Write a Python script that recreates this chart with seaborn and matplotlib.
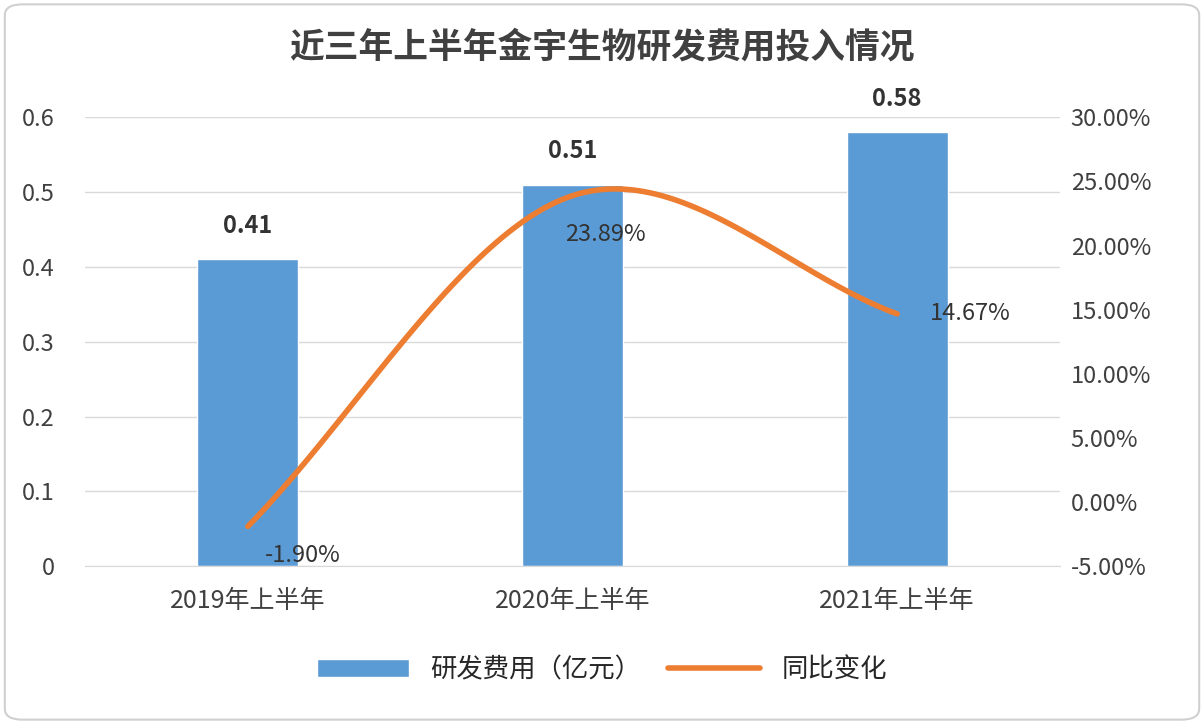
import numpy as np
import pandas as pd
import matplotlib.pyplot as plt
import seaborn as sns
from matplotlib.patches import FancyBboxPatch

periods = ['2019年上半年', '2020年上半年', '2021年上半年']
rd_cost = [0.41, 0.51, 0.58]
yoy_pct = [-1.90, 23.89, 14.67]

sns.set_style('white')
plt.rcParams['font.family'] = ['Noto Sans CJK SC', 'DejaVu Sans']

fig = plt.figure(figsize=(12.04, 7.24), dpi=100)
fig.patches.append(FancyBboxPatch((0.004, 0.006), 0.992, 0.988, boxstyle='round,pad=0,rounding_size=0.015',
                                  transform=fig.transFigure, fc='none', ec='#d0d0d0', lw=1.5))
ax = fig.add_axes([0.071, 0.218, 0.809, 0.62])

df = pd.DataFrame({'period': periods, 'cost': rd_cost})
sns.barplot(data=df, x='period', y='cost', color='#5B9BD5', width=0.31, ax=ax, saturation=1,
            label='研发费用（亿元）')
ax.set_ylim(0, 0.6)
ax.set_yticks(np.arange(0, 0.61, 0.1))
ax.set_yticklabels(['0', '0.1', '0.2', '0.3', '0.4', '0.5', '0.6'])
ax.set_xlim(-0.5, 2.5)
ax.set_xlabel('')
ax.set_ylabel('')
ax.yaxis.grid(True, color='#d9d9d9', lw=1)
ax.set_axisbelow(True)
for s in ax.spines.values():
    s.set_visible(False)
ax.spines['bottom'].set_visible(True)
ax.spines['bottom'].set_color('#d9d9d9')
ax.tick_params(axis='y', labelsize=17, colors='#404040', length=0, pad=22)
ax.tick_params(axis='x', labelsize=18, colors='#404040', length=0, pad=16)
for i, v in enumerate(rd_cost):
    ax.text(i, v + 0.045, f'{v:.2f}', ha='center', va='center', fontsize=17, fontweight='bold', color='#333333')

ax2 = ax.twinx()
# smooth curve through the points (Catmull-Rom, like Excel smoothed line)
x = np.arange(len(yoy_pct), dtype=float)
y = np.array(yoy_pct)
px = np.concatenate([[2 * x[0] - x[1]], x, [2 * x[-1] - x[-2]]])
py = np.concatenate([[2 * y[0] - y[1]], y, [2 * y[-1] - y[-2]]])
cx, cy = [], []
for k in range(1, len(px) - 2):
    t = np.linspace(0, 1, 60)
    for arr, out in ((px, cx), (py, cy)):
        p0, p1, p2, p3 = arr[k - 1:k + 3]
        out.extend(0.5 * (2 * p1 + (-p0 + p2) * t + (2 * p0 - 5 * p1 + 4 * p2 - p3) * t ** 2
                          + (-p0 + 3 * p1 - 3 * p2 + p3) * t ** 3))
sns.lineplot(x=cx, y=cy, ax=ax2, color='#ED7D31', lw=4, label='同比变化', sort=False)
ax2.set_ylim(-5, 30)
ax2.set_yticks(np.arange(-5, 31, 5))
ax2.set_yticklabels([f'{v:.2f}%' for v in np.arange(-5, 31, 5)])
for s in ax2.spines.values():
    s.set_visible(False)
ax2.tick_params(axis='y', labelsize=17, colors='#404040', length=0, pad=8)
offs = [(0.17, -2.3, 'center'), (0.1, -3.0, 'center'), (0.1, 0.0, 'left')]
for i, v in enumerate(yoy_pct):
    dx, dy, ha = offs[i]
    ax2.text(i + dx, v + dy, f'{v:.2f}%', ha=ha, va='center', fontsize=17, color='#333333')

h1, l1 = ax.get_legend_handles_labels()
h2, l2 = ax2.get_legend_handles_labels()
if ax2.get_legend():
    ax2.get_legend().remove()
if ax.get_legend():
    ax.get_legend().remove()
fig.legend(h1 + h2, l1 + l2, loc='center', bbox_to_anchor=(0.5, 0.075), ncol=2, frameon=False,
           fontsize=19, handlelength=3.5, columnspacing=1.0)

fig.text(0.5, 0.935, '近三年上半年金宇生物研发费用投入情况', ha='center', va='center',
         fontsize=25, color='#404040', fontweight='bold')

fig.savefig('out.png', dpi=100)
